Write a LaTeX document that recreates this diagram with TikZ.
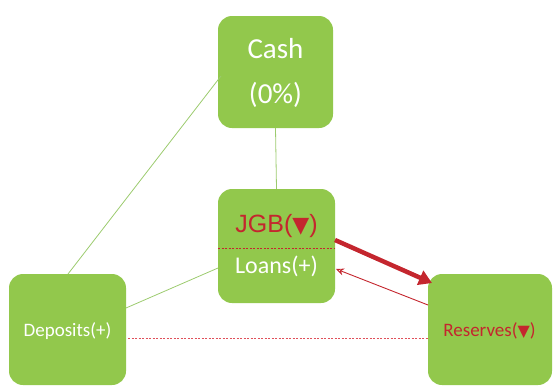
\documentclass[tikz,border=0pt]{standalone}
\usepackage{fontspec}
\setmainfont{Carlito}
\newfontfamily\arialf{Liberation Sans}
\newfontfamily\dejaf{DejaVu Sans}
\usetikzlibrary{arrows.meta}
\definecolor{boxgreen}{HTML}{92C84C}
\definecolor{linegreen}{HTML}{9CCB6E}
\definecolor{darkred}{HTML}{C4262E}
\definecolor{dotred}{HTML}{E0505A}
\begin{document}
\begin{tikzpicture}[x=1pt,y=-1pt,
  gbox/.style={fill=boxgreen,draw=none,rounded corners=14pt,inner sep=0pt},
  glink/.style={draw=linegreen,line width=0.8pt},
  wtext/.style={text=white,inner sep=0pt}]
\useasboundingbox (0,0) rectangle (556,386);
% boxes
\path[gbox] (218,16) rectangle (333,128);
\node[inner sep=0pt,minimum width=115pt,minimum height=112pt] (cash) at (275.5,72) {};
\path[gbox] (218,189) rectangle (335,303);
\node[inner sep=0pt,minimum width=117pt,minimum height=114pt] (jgb) at (276.5,246) {};
\path[gbox] (9,274) rectangle (126,385);
\node[inner sep=0pt,minimum width=117pt,minimum height=111pt] (dep) at (67.5,329.5) {};
\path[gbox] (428,274) rectangle (552,385);
\node[inner sep=0pt,minimum width=124pt,minimum height=111pt] (res) at (490,329.5) {};
% texts
\node[wtext,font=\fontsize{29}{32}\selectfont] (cashT) at (275.5,49) {Cash};
\node[wtext,font=\fontsize{29}{32}\selectfont] (pctT) at (275.5,95) {(0\%)};
\node[inner sep=0pt,text=darkred,font=\arialf\fontsize{25}{28}\selectfont] (jgbT) at (276.5,226) {JGB({\dejaf\fontsize{22}{24}\selectfont ▼})};
\node[wtext,font=\fontsize{24}{27}\selectfont] (loanT) at (276.5,266) {Loans(+)};
\node[wtext,font=\fontsize{19}{22}\selectfont] (depT) at (67.5,331) {Deposits(+)};
\node[inner sep=0pt,text=darkred,font=\fontsize{19}{22}\selectfont] (resT) at (489.5,331) {Reserves({\dejaf\fontsize{16}{18}\selectfont ▼})};
% divider in JGB
\coordinate (dl) at (218,248);
\coordinate (dr) at (335,248);
\draw[darkred,dash pattern=on 2pt off 1.5pt,line width=0.7pt] (dl) -- (dr);
% green links
\coordinate (c1) at (221,76);
\coordinate (d1) at (68,274);
\draw[glink] (c1) -- (d1);
\draw[glink] (cash.south) -- (jgb.north);
\coordinate (d2) at (126,308);
\coordinate (j2) at (218,268);
\draw[glink] (d2) -- (j2);
% red dotted
\coordinate (dd) at (128,338);
\coordinate (rd) at (428,338);
\draw[dotred,dash pattern=on 2pt off 1.5pt,line width=0.8pt] (dd) -- (rd);
% red arrows
\coordinate (a1) at (335,240);
\coordinate (a2) at (432,283);
\draw[darkred,line width=4.5pt,-{Triangle[length=13pt,width=15pt]}] (a1) -- (a2);
\coordinate (b1) at (428,305);
\coordinate (b2) at (336,269);
\draw[darkred,line width=0.9pt,-{Stealth[length=8pt,width=7pt,open]}] (b1) -- (b2);
\end{tikzpicture}
\end{document}
